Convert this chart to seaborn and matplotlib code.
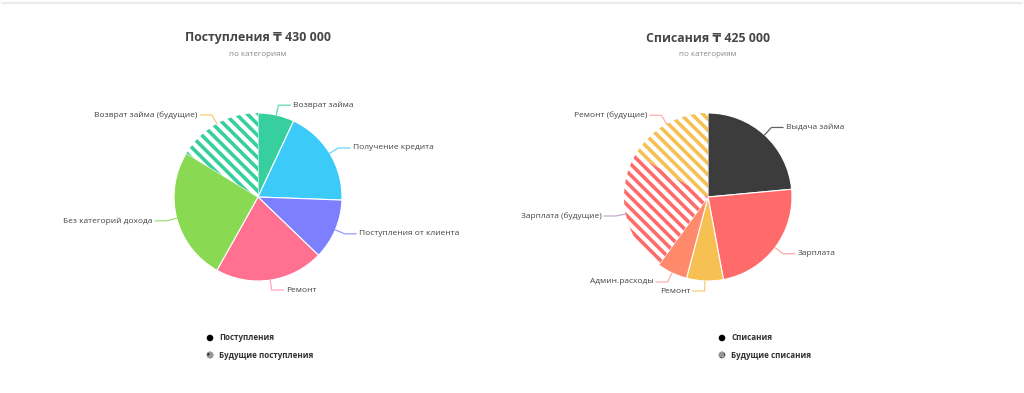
import numpy as np
import matplotlib.pyplot as plt
import matplotlib.patches as mpatches
import seaborn as sns

# DATA
# ----
in_title = "Поступления ₸ 430 000"
in_labels = ["Возврат займа", "Получение кредита", "Поступления от клиента",
             "Ремонт", "Без категорий дохода", "Возврат займа (будущие)"]
in_values = [30000, 80000, 50000, 90000, 110000, 70000]
in_future = [False, False, False, False, False, True]
in_colors = ["#37cf9d", "#3ccbf8", "#7c80ff", "#ff7091", "#89d953", "#37cf9d"]
in_line_colors = ["#37cf9d", "#3ccbf8", "#7c80ff", "#ff8fa8", "#89d953", "#f6c052"]
in_legend = ["Поступления", "Будущие поступления"]

out_title = "Списания ₸ 425 000"
out_labels = ["Выдача займа", "Зарплата", "Ремонт", "Админ.расходы",
              "Зарплата (будущие)", "Ремонт (будущие)"]
out_values = [100000, 100000, 30000, 25000, 100000, 70000]
out_future = [False, False, False, False, True, True]
out_colors = ["#3c3c3c", "#ff6b6b", "#f6c052", "#ff8a6b", "#ff6b6b", "#f6c052"]
out_line_colors = ["#3c3c3c", "#ff8f8f", "#f6c052", "#ff9a9a", "#b98fc9", "#ff9a9a"]
out_legend = ["Списания", "Будущие списания"]

subtitle = "по категориям"

# STYLE
# -----
sns.set_theme(style="white")
plt.rcParams['font.family'] = ['Open Sans', 'DejaVu Sans']
plt.rcParams['hatch.linewidth'] = 2.6

R_PX = 84  # pie radius in pixels


def draw_pie(ax, values, labels, colors, future, line_colors):
    wedges, _ = ax.pie(values, colors=colors, startangle=90, counterclock=False,
                       radius=1, wedgeprops=dict(edgecolor="white", linewidth=0.8))
    for w, fut, col in zip(wedges, future, colors):
        if fut:
            w.set_facecolor("white")
            w.set_edgecolor(col)
            w.set_hatch("\\" * 3)
            w.set_linewidth(0)

    # leader lines + labels
    for w, lab, lc in zip(wedges, labels, line_colors):
        ang = np.deg2rad((w.theta1 + w.theta2) / 2)
        ux, uy = np.cos(ang), np.sin(ang)
        side = 1 if ux >= 0 else -1
        p0 = (ux * 1.0, uy * 1.0)
        p1 = (ux * 1.12, uy * 1.12)
        p2 = (p1[0] + side * 0.14, p1[1])
        ax.plot([p0[0], p1[0], p2[0]], [p0[1], p1[1], p2[1]], color=lc,
                lw=0.9, alpha=0.8, clip_on=False, solid_joinstyle="round")
        ax.text(p2[0] + side * 0.03, p2[1], lab, ha="left" if side > 0 else "right",
                va="center", fontsize=6.0, color="#444444")


fig = plt.figure(figsize=(10.24, 3.93), dpi=100)
W, H = 1024, 393

# left pie, center (258, 197) px
ax_l = fig.add_axes([0, 0, 0.5, 1])
draw_pie(ax_l, in_values, in_labels, in_colors, in_future, in_line_colors)
ax_l.set_xlim(-258 / R_PX, (512 - 258) / R_PX)
ax_l.set_ylim(-(H - 197) / R_PX, 197 / R_PX)
ax_l.axis("off")

# right pie, center (708, 197) px
ax_r = fig.add_axes([0.5, 0, 0.5, 1])
draw_pie(ax_r, out_values, out_labels, out_colors, out_future, out_line_colors)
ax_r.set_xlim(-(708 - 512) / R_PX, (1024 - 708) / R_PX)
ax_r.set_ylim(-(H - 197) / R_PX, 197 / R_PX)
ax_r.axis("off")

# overlay in pixel coords for titles and legends
ov = fig.add_axes([0, 0, 1, 1], zorder=-1)
ov.set_xlim(0, W)
ov.set_ylim(H, 0)
ov.axis("off")
ov.plot([2, 1022], [2.5, 2.5], color="#ececec", lw=1.6)

for cx, title in [(258, in_title), (708, out_title)]:
    ov.text(cx, 38, title, ha="center", va="center", fontsize=8.9,
            fontweight="bold", color="#464646")
    ov.text(cx, 55, subtitle, ha="center", va="center", fontsize=5.8, color="#8a8a8a")

lx = {258: 210, 708: 722}
for cx, leg in [(258, in_legend), (708, out_legend)]:
    x0 = lx[cx]
    ov.add_patch(mpatches.Circle((x0, 338), 3.3, facecolor="black", edgecolor="none"))
    ov.add_patch(mpatches.Circle((x0, 355), 3.3, facecolor="#333333", edgecolor="#999999",
                                 hatch="xxxx", linewidth=0))
    ov.text(x0 + 9, 338, leg[0], ha="left", va="center", fontsize=5.8,
            fontweight="bold", color="#333333")
    ov.text(x0 + 9, 355, leg[1], ha="left", va="center", fontsize=5.8,
            fontweight="bold", color="#333333")

fig.savefig("out.png", dpi=100)
plt.close(fig)
